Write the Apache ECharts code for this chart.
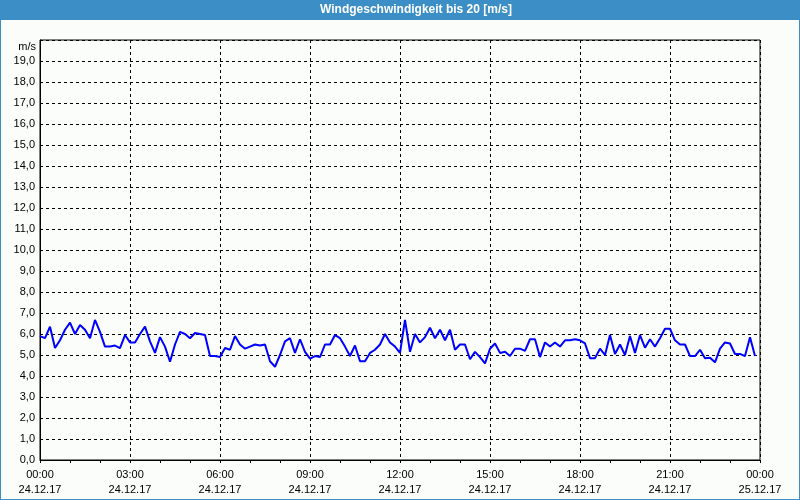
<!DOCTYPE html>
<html>
<head>
<meta charset="utf-8">
<script src="https://cdn.jsdelivr.net/npm/echarts@6/dist/echarts.min.js"></script>
<style>
html,body{margin:0;padding:0;background:#fbfdfb;}
#c{width:800px;height:500px;}
</style>
</head>
<body>
<div id="c"></div>
<script>
var titleText = 'Windgeschwindigkeit bis 20 [m/s]';
var unitName = 'm/s';
// 10-minute samples starting 24.12.17 00:00 (minutes since midnight = index*10)
var sampleStepMinutes = 10;
var windSpeed = [
  5.9, 5.8, 6.35, 5.33, 5.7, 6.2, 6.54, 6.0, 6.43, 6.2, 5.8, 6.67, 6.1, 5.4, 5.4, 5.45, 5.33, 5.95, 5.6, 5.6, 6.0, 6.35, 5.65, 5.1, 5.85,
  5.4, 4.68, 5.5, 6.1, 6.0, 5.8, 6.05, 6.0, 5.95, 4.95, 4.95, 4.9, 5.33, 5.25, 5.9, 5.5, 5.3, 5.4, 5.5, 5.45, 5.5, 4.7, 4.44, 5.0,
  5.65, 5.8, 5.1, 5.75, 5.15, 4.83, 4.95, 4.9, 5.5, 5.5, 5.95, 5.8, 5.4, 4.95, 5.45, 4.7, 4.7, 5.1, 5.25, 5.5, 6.0, 5.6, 5.4, 5.1, 6.67,
  5.15, 6.0, 5.6, 5.85, 6.3, 5.8, 6.2, 5.7, 6.2, 5.25, 5.5, 5.5, 4.8, 5.15, 4.9, 4.6, 5.3, 5.55, 5.1, 5.15, 4.95, 5.3, 5.3,
  5.2, 5.75, 5.75, 4.9, 5.6, 5.4, 5.6, 5.4, 5.7, 5.7, 5.75, 5.7, 5.55, 4.85, 4.85, 5.3, 5.0, 5.95, 5.05, 5.5, 5.0, 5.9, 5.1, 5.95,
  5.35, 5.75, 5.4, 5.8, 6.25, 6.25, 5.7, 5.5, 5.5, 4.95, 4.95, 5.25, 4.85, 4.87, 4.65, 5.3, 5.6, 5.55, 5.05, 5.05, 4.95, 5.85, 4.95
];
var xTickTimes = ['00:00','03:00','06:00','09:00','12:00','15:00','18:00','21:00','00:00'];
var xTickDates = ['24.12.17','24.12.17','24.12.17','24.12.17','24.12.17','24.12.17','24.12.17','24.12.17','25.12.17'];

var seriesData = windSpeed.map(function (v, i) { return [i * sampleStepMinutes, v]; });

var chart = echarts.init(document.getElementById('c'), null, {renderer: 'canvas'});
var font = 'Liberation Sans';
chart.setOption({
  animation: false,
  backgroundColor: '#fbfdfb',
  grid: {left: 40, right: 40, top: 40, bottom: 40, show: true, borderColor: '#000', borderWidth: 1, backgroundColor: 'transparent'},
  xAxis: {
    type: 'value', min: 0, max: 1440, interval: 180,
    axisLine: {show: true, lineStyle: {color: '#000', width: 1}},
    axisTick: {show: true, length: 3, lineStyle: {color: '#000'}},
    minorTick: {show: true, splitNumber: 3, length: 3, lineStyle: {color: '#000'}},
    splitLine: {show: true, lineStyle: {color: '#000', type: [3, 3], width: 1}},
    axisLabel: {
      margin: 7, color: '#000', fontFamily: font, fontSize: 11, lineHeight: 15,
      showMinLabel: true, showMaxLabel: true,
      formatter: function (v) { var k = Math.round(v / 180); return xTickTimes[k] + '\n' + xTickDates[k]; }
    }
  },
  yAxis: {
    type: 'value', min: 0, max: 20, interval: 1,
    name: unitName, nameLocation: 'end', nameGap: -7,
    nameTextStyle: {color: '#000', fontFamily: font, fontSize: 11, align: 'right', verticalAlign: 'middle', padding: [0, 4, 0, 0]},
    axisLine: {show: true, lineStyle: {color: '#000', width: 1}},
    axisTick: {show: false},
    splitLine: {show: true, lineStyle: {color: '#000', type: [3, 3], width: 1}},
    axisLabel: {
      margin: 5, color: '#000', fontFamily: font, fontSize: 11, showMaxLabel: false,
      formatter: function (v) { return v.toFixed(1).replace('.', ','); }
    }
  },
  series: [{
    type: 'line', data: seriesData, showSymbol: false, symbol: 'none',
    lineStyle: {color: '#0000ff', width: 2}, itemStyle: {color: '#0000ff'}
  }],
  graphic: [
    {type: 'rect', shape: {x: 0, y: 0, width: 800, height: 20}, style: {fill: '#3c8fc6'}, z: 10},
    {type: 'text', x: 416, y: 10, style: {text: titleText, fill: '#fff', font: 'bold 12px "Liberation Sans"', textAlign: 'center', textVerticalAlign: 'middle'}, z: 11},
    {type: 'rect', shape: {x: 0, y: 0, width: 1, height: 500}, style: {fill: '#3c8fc6'}, z: 10},
    {type: 'rect', shape: {x: 799, y: 0, width: 1, height: 500}, style: {fill: '#3c8fc6'}, z: 10},
    {type: 'rect', shape: {x: 0, y: 499, width: 800, height: 1}, style: {fill: '#3c8fc6'}, z: 10}
  ]
});
</script>
</body>
</html>
